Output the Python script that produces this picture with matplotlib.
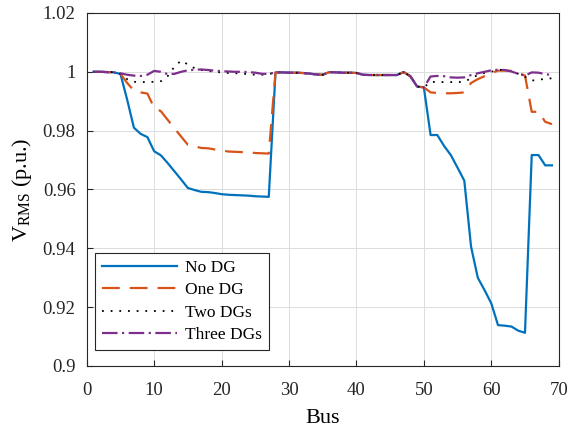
import matplotlib
matplotlib.use("Agg")
import matplotlib.pyplot as plt
import numpy as np

plt.rcParams['font.family'] = ['Liberation Serif', 'DejaVu Serif']
plt.rcParams['mathtext.fontset'] = 'custom'
plt.rcParams['mathtext.rm'] = 'Liberation Serif'
plt.rcParams['mathtext.it'] = 'Liberation Serif:italic'

buses = list(range(1, 70))

middle = [0.9998, 0.9998, 0.9997, 0.9997, 0.9996, 0.9994, 0.9991, 0.9990,  # 28-35
          0.9999, 0.9998, 0.9997, 0.9997, 0.9996,                          # 36-40
          0.9990, 0.9989, 0.9989, 0.9989, 0.9989, 0.9989,                  # 41-46
          0.9999, 0.9985, 0.9950]                                          # 47-49

no_dg = ([1.0000, 1.0000, 0.9999, 0.9998, 0.9993, 0.9905, 0.9810, 0.9789, 0.9778, 0.9730,
          0.9716, 0.9690, 0.9662, 0.9634, 0.9605, 0.9598, 0.9592, 0.9591, 0.9588, 0.9584,
          0.9582, 0.9581, 0.9580, 0.9579, 0.9577, 0.9576, 0.9575]
         + middle +
         [0.9947, 0.9785, 0.9785, 0.9748, 0.9717, 0.9674, 0.9630, 0.9406, 0.9300, 0.9258,
          0.9213, 0.9139, 0.9137, 0.9134, 0.9120, 0.9113, 0.9717, 0.9717, 0.9682, 0.9682])

one_dg = ([1.0000, 1.0000, 0.9999, 0.9998, 0.9993, 0.9962, 0.9936, 0.9930, 0.9926, 0.9878,
           0.9866, 0.9837, 0.9808, 0.9780, 0.9752, 0.9747, 0.9741, 0.9740, 0.9736, 0.9733,
           0.9729, 0.9728, 0.9727, 0.9726, 0.9724, 0.9723, 0.9722]
          + middle +
          [0.9947, 0.9930, 0.9928, 0.9927, 0.9927, 0.9928, 0.9930, 0.9962, 0.9975, 0.9985,
           0.9995, 1.0004, 1.0004, 1.0003, 0.9997, 0.9987, 0.9864, 0.9864, 0.9830, 0.9822])

two_dg = ([1.0000, 1.0000, 0.9999, 0.9999, 0.9993, 0.9975, 0.9966, 0.9965, 0.9965, 0.9966,
           0.9968, 0.9985, 1.0017, 1.0038, 1.0025, 1.0012, 1.0006, 1.0003, 1.0000, 0.9998,
           0.9996, 0.9995, 0.9994, 0.9992, 0.9990, 0.9990, 0.9992]
          + middle +
          [0.9947, 0.9966, 0.9965, 0.9965, 0.9965, 0.9965, 0.9966, 0.9978, 0.9989, 0.9996,
           1.0000, 1.0007, 1.0006, 1.0002, 0.9993, 0.9983, 0.9970, 0.9973, 0.9976, 0.9978])

three_dg = ([1.0000, 1.0000, 0.9999, 0.9998, 0.9995, 0.9990, 0.9987, 0.9986, 0.9990, 1.0003,
             1.0000, 0.9992, 0.9993, 1.0000, 1.0005, 1.0007, 1.0008, 1.0006, 1.0004, 1.0002,
             1.0001, 1.0000, 1.0000, 0.9999, 0.9997, 0.9993, 0.9993]
            + middle +
            [0.9947, 0.9984, 0.9986, 0.9985, 0.9981, 0.9980, 0.9981, 0.9989, 0.9995, 1.0000,
             1.0005, 1.0007, 1.0006, 1.0001, 0.9993, 0.9987, 0.9998, 0.9997, 0.9992, 0.9989])

labels = ['No DG', 'One DG', 'Two DGs', 'Three DGs']
xticks = [0, 10, 20, 30, 40, 50, 60, 70]
yticks = [0.9, 0.92, 0.94, 0.96, 0.98, 1.0, 1.02]
yticklabels = ['0.9', '0.92', '0.94', '0.96', '0.98', '1', '1.02']

fig = plt.figure(figsize=(5.69, 4.32), dpi=100)
ax = fig.add_axes([0.1524, 0.1528, 0.8295, 0.8172])

ax.plot(buses, no_dg, color='#0072BD', lw=1.6, label=labels[0])
ax.plot(buses, one_dg, color='#D95319', lw=1.6, dashes=(8, 4.5), label=labels[1])
ax.plot(buses, two_dg, color='black', lw=1.3, dashes=(1, 3.8), label=labels[2])
ax.plot(buses, three_dg, color='#7E2F8E', lw=1.6, dashes=(7, 2, 1, 2), label=labels[3])

ax.set_xlim(0, 70)
ax.set_ylim(0.9, 1.02)
ax.set_xticks(xticks)
ax.set_yticks(yticks)
ax.set_yticklabels(yticklabels)
ax.tick_params(direction='in', length=4, width=0.8, labelsize=13.5, colors='#262626')
ax.tick_params(axis='y', pad=8)
ax.tick_params(axis='x', pad=11.5)
ax.grid(True, color='#dcdcdc', lw=0.7)
ax.set_axisbelow(True)
for s in ax.spines.values():
    s.set_color('#262626')
    s.set_linewidth(0.8)

ax.set_xlabel('Bus', fontsize=16, labelpad=7)
ax.set_ylabel(r'V$_{\mathrm{RMS}}$ (p.u.)', fontsize=16, labelpad=6)

leg = ax.legend(loc='lower left', bbox_to_anchor=(0.0176, 0.045), borderaxespad=0,
                fontsize=12.5, handlelength=4.3, labelspacing=0.36, fancybox=False,
                framealpha=1, edgecolor='#262626', borderpad=0.4, handletextpad=0.5)
leg.get_frame().set_linewidth(0.8)

fig.savefig('out.png', dpi=100)
